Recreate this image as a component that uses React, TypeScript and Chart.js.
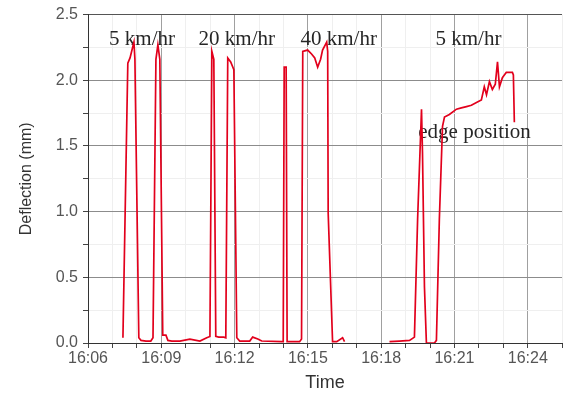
import { useEffect, useRef } from 'react';
import { Chart, registerables } from 'chart.js';

Chart.register(...registerables);

// time in minutes after 16:06, null deflection = gap in the record
const timeMin = [
  1.43, 1.59, 1.63, 1.72, 1.80, 1.88, 1.92, 2.08, 2.17, 2.37, 2.57,
  2.66, 2.78, 2.86, 2.94, 3.06, 3.19, 3.27, 3.43, 3.76, 4.17, 4.58,
  4.86, 4.99, 5.07, 5.15, 5.23, 5.35, 5.56, 5.64, 5.72, 5.84, 5.97,
  6.09, 6.21, 6.62, 6.74, 6.95, 7.11, 7.93, 7.99, 8.03, 8.11, 8.15,
  8.25, 8.66, 8.74, 8.79, 8.99, 9.15, 9.28, 9.40, 9.52, 9.60, 9.77,
  9.81, 9.83, 10.01, 10.18, 10.42, 10.50, 11.40,
  12.34, 12.75, 13.16, 13.36, 13.49, 13.65, 13.69, 13.77, 13.85, 13.98,
  14.18, 14.26, 14.38, 14.51, 14.59, 14.79, 15.08, 15.28, 15.49, 15.69,
  15.90, 16.10, 16.22, 16.31, 16.43, 16.55, 16.67, 16.76, 16.84, 16.96,
  17.04, 17.12, 17.37, 17.41, 17.45,
];
const deflection = [
  0.04, 1.72, 2.13, 2.17, 2.23, 2.29, 2.16, 0.04, 0.02, 0.015, 0.015,
  0.04, 2.16, 2.27, 2.16, 0.06, 0.06, 0.02, 0.015, 0.015, 0.03, 0.015,
  0.04, 0.05, 2.22, 2.16, 0.05, 0.045, 0.045, 0.04, 2.17, 2.14, 2.08,
  0.04, 0.015, 0.015, 0.045, 0.03, 0.015, 0.01, 0.01, 2.10, 2.10, 0.01,
  0.01, 0.01, 0.03, 2.22, 2.23, 2.20, 2.17, 2.10, 2.16, 2.23, 2.29,
  2.22, 0.99, 0.01, 0.01, 0.04, 0.01, null,
  0.01, 0.015, 0.02, 0.045, 0.94, 1.78, 1.45, 0.43, 0.0, 0.0,
  0.0, 0.02, 0.94, 1.65, 1.72, 1.74, 1.78, 1.79, 1.80, 1.81,
  1.83, 1.85, 1.95, 1.89, 1.99, 1.93, 1.97, 2.14, 1.95, 2.02,
  2.04, 2.06, 2.06, 2.04, 1.68,
];

const startHour = 16;
const startMinute = 6;
const xMin = 0;
const xMax = 19.4;
const xMajorStep = 3;
const yMin = 0;
const yMax = 2.5;
const yMajorStep = 0.5;

const annotationText = ['5 km/hr', '20 km/hr', '40 km/hr', '5 km/hr', 'edge position'];
const annotationX = [2.21, 6.09, 10.26, 15.57, 15.82];
const annotationY = [2.31, 2.31, 2.31, 2.31, 1.6];

const isMultiple = (v: number, step: number) =>
  Math.abs(v / step - Math.round(v / step)) < 1e-6;

const annotationPlugin = {
  id: 'speedNotes',
  beforeDatasetsDraw(chart: any) {
    const { ctx, scales } = chart;
    ctx.save();
    ctx.font = '21px "Liberation Serif", "Times New Roman", serif';
    ctx.fillStyle = '#262626';
    ctx.textAlign = 'center';
    ctx.textBaseline = 'middle';
    annotationText.forEach((t, i) => {
      ctx.fillText(t, scales.x.getPixelForValue(annotationX[i]), scales.y.getPixelForValue(annotationY[i]));
    });
    ctx.restore();
  },
};

const bgPlugin = {
  id: 'whiteBg',
  beforeDraw(chart: any) {
    const { ctx, width, height } = chart;
    ctx.save();
    ctx.fillStyle = '#ffffff';
    ctx.fillRect(0, 0, width, height);
    ctx.restore();
  },
};

export default function App() {
  const ref = useRef<HTMLCanvasElement | null>(null);

  useEffect(() => {
    document.body.style.margin = '0';
    if (!ref.current) return;
    const points = timeMin.map((t, i) => ({ x: t, y: deflection[i] }));
    const chart = new Chart(ref.current, {
      type: 'line',
      data: {
        datasets: [
          {
            data: points as any,
            borderColor: '#e2001c',
            borderWidth: 1.7,
            pointRadius: 0,
            tension: 0,
            spanGaps: false,
            fill: false,
          },
        ],
      },
      options: {
        animation: false,
        responsive: false,
        devicePixelRatio: 1,
        layout: { padding: { left: 0, right: 0, top: 14, bottom: 0 } },
        plugins: { legend: { display: false }, tooltip: { enabled: false } },
        scales: {
          x: {
            type: 'linear',
            min: xMin,
            max: xMax,
            afterFit: (s: any) => {
              s.height = 51;
            },
            ticks: {
              stepSize: 1,
              autoSkip: false,
              maxRotation: 0,
              padding: 1,
              color: '#555555',
              font: { family: '"Liberation Sans", Arial, sans-serif', size: 16 },
              callback: (v: any) => {
                const n = Number(v);
                if (!isMultiple(n, xMajorStep)) return '';
                const m = startMinute + Math.round(n);
                return `${startHour}:${String(m).padStart(2, '0')}`;
              },
            },
            grid: {
              color: (c: any) => (isMultiple(c.tick?.value ?? 0, xMajorStep) ? '#a0a0a0' : '#efefef'),
              tickColor: '#444444',
              tickLength: 5,
              lineWidth: 1,
            },
            border: { color: '#333333', width: 1 },
            title: {
              display: true,
              text: 'Time',
              color: '#333333',
              font: { family: '"Liberation Sans", Arial, sans-serif', size: 18 },
              padding: { top: 0, bottom: 0 },
            },
          },
          y: {
            type: 'linear',
            min: yMin,
            max: yMax,
            afterFit: (s: any) => {
              s.width = 88;
            },
            ticks: {
              stepSize: 0.25,
              autoSkip: false,
              padding: 5,
              color: '#555555',
              font: { family: '"Liberation Sans", Arial, sans-serif', size: 16 },
              callback: (v: any) => {
                const n = Number(v);
                return isMultiple(n, yMajorStep) ? n.toFixed(1) : '';
              },
            },
            grid: {
              color: (c: any) => {
                const v = c.tick?.value ?? 0;
                if (Math.abs(v - yMax) < 1e-6) return '#555555';
                return isMultiple(v, yMajorStep) ? '#8c8c8c' : '#efefef';
              },
              tickColor: '#444444',
              tickLength: 5,
              lineWidth: 1,
            },
            border: { color: '#333333', width: 1 },
            title: {
              display: true,
              text: 'Deflection (mm)',
              color: '#333333',
              font: { family: '"Liberation Sans", Arial, sans-serif', size: 16 },
              padding: { top: 17, bottom: 0 },
            },
          },
        },
      },
      plugins: [bgPlugin, annotationPlugin],
    });
    return () => chart.destroy();
  }, []);

  return (
    <div style={{ width: 563, height: 394 }}>
      <canvas ref={ref} width={563} height={394} style={{ display: 'block' }} />
    </div>
  );
}
